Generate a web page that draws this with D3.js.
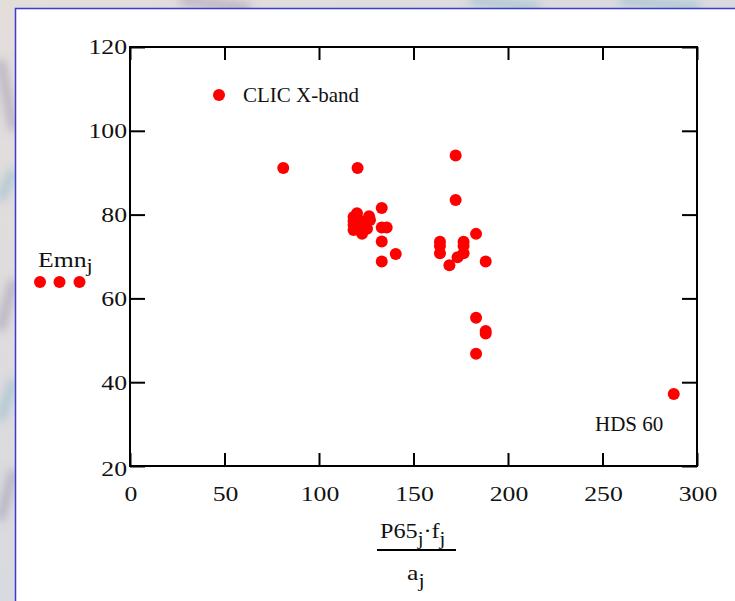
<!DOCTYPE html>
<html>
<head>
<meta charset="utf-8">
<script src="https://cdn.jsdelivr.net/npm/d3@7"></script>
<style>
  html, body { margin: 0; padding: 0; background: #dcdcdf; }
  svg { display: block; }
  text { font-family: "Liberation Serif", "Times New Roman", serif; fill: #111; }
</style>
</head>
<body>
<svg id="chart" width="735" height="601"></svg>
<script>
// Surface gradient vs. normalised power (P65·f/a)
const xValues = [
  81.1, 120.4, 172.3, 172.3, 133.2,
  118.3, 118.3, 118.3, 118.3, 120.1, 120.6, 122.8, 123.3, 124.3, 126.5, 127.0, 125.4,
  133.2, 135.8, 133.2, 133.2, 140.6,
  164.0, 164.0, 164.0, 176.5, 176.5, 176.5, 173.3, 169.0,
  183.1, 188.2, 183.1, 188.2, 188.2, 183.1,
  287.7
];
const yValues = [
  91.1, 91.1, 94.1, 83.5, 81.6,
  79.4, 78.5, 77.5, 76.3, 80.3, 78.9, 75.4, 77.3, 78.2, 79.6, 78.7, 76.6,
  76.9, 76.9, 73.6, 68.8, 70.6,
  73.5, 72.5, 70.8, 73.5, 72.5, 70.8, 69.8, 67.9,
  75.4, 68.8, 55.4, 52.2, 51.6, 46.8,
  37.2
];
const xTicks = [0, 50, 100, 150, 200, 250, 300];
const yTicks = [20, 40, 60, 80, 100, 120];
const legendLabel = "CLIC X-band";
const noteLabel = "HDS 60";

const svg = d3.select("#chart");
const wide = 1.17; // horizontal stretch of the axis lettering

// Backdrop: pale marble with soft blue streaks, white sheet with blue frame
const defs = svg.append("defs");
const blur = defs.append("filter").attr("id", "soft").attr("x", "-50%").attr("y", "-50%")
  .attr("width", "200%").attr("height", "200%");
blur.append("feGaussianBlur").attr("stdDeviation", 5);
const bg = defs.append("linearGradient").attr("id", "bg").attr("x1", 0).attr("y1", 0).attr("x2", 1).attr("y2", 1);
bg.append("stop").attr("offset", 0).attr("stop-color", "#e4dedb");
bg.append("stop").attr("offset", 0.5).attr("stop-color", "#d9dadf");
bg.append("stop").attr("offset", 1).attr("stop-color", "#dfdcdc");
svg.append("rect").attr("width", 735).attr("height", 601).attr("fill", "url(#bg)");
const streaks = [
  [[0, 60], [14, 130]], [[0, 200], [14, 170]], [[0, 330], [14, 280]], [[0, 420], [14, 380]],
  [[0, 520], [14, 470]], [[470, 0], [540, 8]], [[180, 0], [250, 8]], [[620, 0], [700, 8]]
];
svg.append("g").attr("filter", "url(#soft)")
  .selectAll("line").data(streaks).join("line")
  .attr("x1", d => d[0][0]).attr("y1", d => d[0][1])
  .attr("x2", d => d[1][0]).attr("y2", d => d[1][1])
  .attr("stroke", (d, i) => i % 2 ? "#a4c2d0" : "#aeaabd")
  .attr("stroke-width", 9).attr("opacity", 0.85);
svg.append("rect").attr("x", 15.5).attr("y", 8.5).attr("width", 730).attr("height", 600)
  .attr("fill", "#fff").attr("stroke", "#3b3bcf").attr("stroke-width", 1.5);

// Plot frame
const plotL = 130, plotR = 697, plotT = 47, plotB = 466;
const x = d3.scaleLinear().domain([0, 300]).range([plotL, plotR]);
const y = d3.scaleLinear().domain([20, 120]).range([plotB, plotT]);
const tickLen = 13;

const frame = svg.append("g");
frame.append("rect").attr("x", plotL).attr("y", plotT).attr("width", plotR - plotL).attr("height", plotB - plotT)
  .attr("fill", "none").attr("stroke", "#000").attr("stroke-width", 2);

// Inward ticks on all four sides
frame.append("g").attr("transform", `translate(0,${plotB})`)
  .call(d3.axisBottom(x).tickValues(xTicks).tickSize(-tickLen).tickSizeOuter(0).tickFormat(""))
  .call(g => g.select(".domain").remove());
frame.append("g").attr("transform", `translate(0,${plotT})`)
  .call(d3.axisTop(x).tickValues(xTicks).tickSize(-tickLen).tickSizeOuter(0).tickFormat(""))
  .call(g => g.select(".domain").remove());
frame.append("g").attr("transform", `translate(${plotL},0)`)
  .call(d3.axisLeft(y).tickValues(yTicks).tickSize(-tickLen - 2).tickSizeOuter(0).tickFormat(""))
  .call(g => g.select(".domain").remove());
frame.append("g").attr("transform", `translate(${plotR},0)`)
  .call(d3.axisRight(y).tickValues(yTicks).tickSize(-tickLen - 2).tickSizeOuter(0).tickFormat(""))
  .call(g => g.select(".domain").remove());
frame.selectAll(".tick line").attr("stroke", "#000").attr("stroke-width", 2);

// Tick labels (slightly widened lettering)
svg.append("g").selectAll("text").data(yTicks).join("text")
  .attr("transform", d => `translate(${plotL - 3},${y(d) + (d === 20 ? 3 : 0)}) scale(${wide},1)`)
  .attr("text-anchor", "end").attr("dominant-baseline", "central")
  .attr("font-size", 22).text(d => d);
svg.append("g").selectAll("text").data(xTicks).join("text")
  .attr("transform", d => `translate(${x(d) + 1},${plotB + 35}) scale(${wide},1)`)
  .attr("text-anchor", "middle").attr("font-size", 22).text(d => d);

// Data points
svg.append("g").selectAll("circle").data(xValues).join("circle")
  .attr("cx", d => x(d)).attr("cy", (d, i) => y(yValues[i]))
  .attr("r", 6).attr("fill", "#ff0000");

// Legend and annotation
svg.append("circle").attr("cx", 219).attr("cy", 95).attr("r", 6).attr("fill", "#ff0000");
svg.append("text").attr("x", 243).attr("y", 102).attr("font-size", 21).text(legendLabel);
svg.append("text").attr("x", 595).attr("y", 431).attr("font-size", 21).text(noteLabel);

// Y-axis label with trace marker
const yl = svg.append("text").attr("transform", `translate(38,267) scale(${wide},1)`).attr("font-size", 22);
yl.append("tspan").text("Emn");
yl.append("tspan").attr("dy", 5).attr("font-size", 19).text("j");
svg.append("g").selectAll("circle").data([40, 59.5, 79.5]).join("circle")
  .attr("cx", d => d).attr("cy", 282).attr("r", 6).attr("fill", "#ff0000");

// X-axis label as a fraction
const xl = svg.append("text").attr("transform", `translate(380,538) scale(1.1,1)`).attr("font-size", 22);
xl.append("tspan").text("P65");
xl.append("tspan").attr("dy", 7).attr("font-size", 19).text("j");
xl.append("tspan").attr("dy", -7).text("\u00b7f");
xl.append("tspan").attr("dy", 7).attr("font-size", 19).text("j");
svg.append("line").attr("x1", 377).attr("x2", 456).attr("y1", 550).attr("y2", 550)
  .attr("stroke", "#000").attr("stroke-width", 2);
const dl = svg.append("text").attr("transform", `translate(407,580) scale(${wide},1)`).attr("font-size", 22);
dl.append("tspan").text("a");
dl.append("tspan").attr("dy", 7).attr("font-size", 19).text("j");
</script>
</body>
</html>
